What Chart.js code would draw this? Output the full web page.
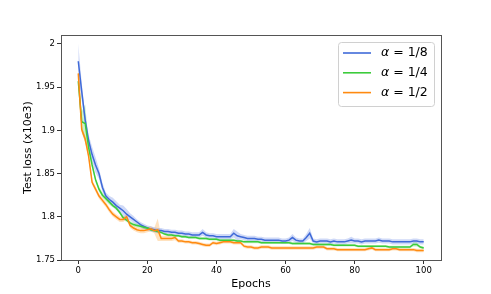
<!DOCTYPE html>
<html>
<head>
<meta charset="utf-8">
<script src="https://cdn.jsdelivr.net/npm/chart.js@4"></script>
<style>
  html, body { margin: 0; padding: 0; background: #fff; }
  #wrap { width: 491px; height: 294px; }
</style>
</head>
<body>
<div id="wrap"><canvas id="myChart" width="491" height="294"></canvas></div>
<script>
// epochs 0..100
let epochs = Array.from({length: 101}, (_, i) => i)
let labels = ["α = 1/8", "α = 1/4", "α = 1/2"]
let colors = ["#3f6ad8", "#3ccc3c", "#ff8a10"]
let bands = ["rgba(65,105,225,0.25)", "rgba(50,205,50,0.25)", "rgba(255,140,0,0.25)"]
let yTicks = [1.75, 1.8, 1.85, 1.9, 1.95, 2]
let xTicks = [0, 20, 40, 60, 80, 100]

let blue = [1.980,1.945,1.912,1.888,1.872,1.860,1.850,1.834,1.824,1.820,
  1.817,1.813,1.810,1.807,1.803,1.800,1.797,1.794,1.791,1.789,
  1.787,1.786,1.785,1.784,1.784,1.783,1.783,1.782,1.782,1.781,
  1.781,1.780,1.780,1.779,1.779,1.779,1.782,1.779,1.778,1.778,
  1.777,1.777,1.777,1.777,1.777,1.781,1.778,1.777,1.776,1.775,
  1.775,1.775,1.774,1.774,1.773,1.773,1.773,1.773,1.773,1.772,
  1.772,1.773,1.776,1.773,1.772,1.772,1.776,1.781,1.772,1.771,
  1.772,1.772,1.772,1.771,1.772,1.771,1.771,1.771,1.772,1.773,
  1.772,1.772,1.771,1.772,1.772,1.772,1.772,1.773,1.772,1.772,
  1.772,1.771,1.771,1.771,1.771,1.771,1.771,1.772,1.772,1.771,
  1.771]
let green = [1.957,1.910,1.908,1.880,1.860,1.843,1.832,1.825,1.821,1.817,
  1.813,1.810,1.805,1.799,1.796,1.793,1.791,1.790,1.789,1.788,
  1.787,1.785,1.784,1.783,1.782,1.780,1.779,1.779,1.778,1.778,
  1.777,1.777,1.776,1.776,1.776,1.775,1.775,1.775,1.774,1.774,
  1.774,1.773,1.773,1.773,1.773,1.773,1.772,1.772,1.771,1.771,
  1.771,1.771,1.771,1.770,1.770,1.770,1.770,1.770,1.770,1.770,
  1.770,1.770,1.769,1.769,1.769,1.769,1.769,1.769,1.768,1.768,
  1.768,1.768,1.768,1.768,1.767,1.767,1.767,1.767,1.767,1.767,
  1.767,1.766,1.766,1.766,1.766,1.766,1.766,1.766,1.766,1.766,
  1.765,1.765,1.765,1.765,1.765,1.765,1.765,1.768,1.768,1.765,
  1.764]
let orange = [1.966,1.901,1.890,1.870,1.840,1.832,1.824,1.819,1.814,1.808,
  1.803,1.800,1.797,1.797,1.800,1.790,1.787,1.785,1.784,1.784,
  1.785,1.786,1.784,1.785,1.775,1.775,1.775,1.775,1.776,1.772,
  1.772,1.771,1.771,1.770,1.770,1.769,1.768,1.767,1.767,1.770,
  1.769,1.770,1.771,1.771,1.771,1.770,1.770,1.770,1.766,1.765,
  1.765,1.764,1.764,1.765,1.765,1.765,1.764,1.764,1.764,1.764,
  1.764,1.764,1.764,1.764,1.764,1.764,1.764,1.764,1.764,1.765,
  1.765,1.765,1.763,1.763,1.763,1.762,1.762,1.762,1.762,1.762,
  1.762,1.762,1.762,1.762,1.763,1.764,1.762,1.762,1.762,1.762,
  1.762,1.763,1.763,1.762,1.762,1.762,1.762,1.762,1.761,1.761,
  1.761]

// half-width of the shaded band around each curve
let blueSd = [0.020,0.010,0.007,0.007,0.009,0.009,0.006,0.005,0.004,0.004,
  0.005,0.005,0.004,0.006,0.006,0.004,0.004,0.003,0.003,0.003,
  0.003,0.003,0.003,0.003,0.003,0.003,0.003,0.003,0.003,0.003,
  0.003,0.003,0.003,0.003,0.003,0.003,0.004,0.003,0.003,0.003,
  0.003,0.003,0.003,0.003,0.003,0.005,0.005,0.003,0.003,0.003,
  0.003,0.003,0.003,0.003,0.003,0.003,0.003,0.003,0.003,0.003,
  0.003,0.003,0.004,0.003,0.003,0.003,0.004,0.006,0.003,0.003,
  0.003,0.003,0.003,0.003,0.003,0.003,0.003,0.003,0.003,0.004,
  0.003,0.003,0.003,0.003,0.003,0.003,0.003,0.003,0.003,0.003,
  0.003,0.003,0.003,0.003,0.003,0.003,0.003,0.003,0.003,0.003,
  0.003]
let greenSd = [0.008,0.012,0.022,0.006,0.004,0.003,0.003,0.003,0.003,0.003,
  0.002,0.002,0.002,0.002,0.002,0.002,0.002,0.002,0.002,0.002,
  0.0015,0.0015,0.0015,0.0015,0.0015,0.0015,0.0015,0.0015,0.0015,0.0015,
  0.0015,0.0015,0.0015,0.0015,0.0015,0.0015,0.0015,0.0015,0.0015,0.0015,
  0.0015,0.0015,0.0015,0.0015,0.0015,0.0015,0.0015,0.0015,0.0015,0.0015,
  0.0015,0.0015,0.0015,0.0015,0.0015,0.0015,0.0015,0.0015,0.0015,0.0015,
  0.0015,0.0015,0.0015,0.0015,0.0015,0.0015,0.0015,0.0015,0.0015,0.0015,
  0.0015,0.0015,0.0015,0.0015,0.0015,0.0015,0.0015,0.0015,0.0015,0.0015,
  0.0015,0.0015,0.0015,0.0015,0.0015,0.0015,0.0015,0.0015,0.0015,0.0015,
  0.0015,0.0015,0.0015,0.0015,0.0015,0.0015,0.0015,0.0025,0.0025,0.0015,
  0.0015]
let orangeSd = [0.006,0.004,0.004,0.003,0.003,0.003,0.003,0.003,0.003,0.003,
  0.003,0.003,0.003,0.003,0.003,0.003,0.003,0.003,0.003,0.003,
  0.003,0.003,0.003,0.013,0.003,0.003,0.003,0.003,0.003,0.002,
  0.002,0.002,0.002,0.002,0.002,0.002,0.002,0.002,0.002,0.002,
  0.002,0.002,0.002,0.002,0.002,0.002,0.002,0.002,0.002,0.002,
  0.002,0.002,0.002,0.002,0.002,0.002,0.002,0.002,0.002,0.002,
  0.002,0.002,0.002,0.002,0.002,0.002,0.002,0.002,0.002,0.002,
  0.002,0.002,0.002,0.002,0.002,0.002,0.002,0.002,0.002,0.002,
  0.002,0.002,0.002,0.002,0.002,0.002,0.002,0.002,0.002,0.002,
  0.002,0.002,0.002,0.002,0.002,0.002,0.002,0.002,0.002,0.002,
  0.002]

let means = [blue, green, orange]
let sds = [blueSd, greenSd, orangeSd]
const FONT = "'DejaVu Sans', sans-serif"

function pts(arr, sd, sign) {
  return epochs.map((e, i) => ({x: e, y: arr[i] + sign * (sd ? sd[i] : 0)}))
}

let datasets = []
means.forEach((m, k) => {
  datasets.push({label: '_hi' + k, data: pts(m, sds[k], 1), borderWidth: 0, pointRadius: 0, fill: false, order: 10})
  datasets.push({label: '_lo' + k, data: pts(m, sds[k], -1), borderWidth: 0, pointRadius: 0,
    fill: '-1', backgroundColor: bands[k], order: 10})
})
means.forEach((m, k) => {
  datasets.push({label: labels[k], data: pts(m, null, 0), borderColor: colors[k], borderWidth: 1.5,
    pointRadius: 0, fill: false, tension: 0, order: 3 - k, isMain: true})
})

const decor = {
  id: 'decor',
  afterDraw(chart) {
    const ctx = chart.ctx, a = chart.chartArea
    ctx.save()
    // frame
    ctx.strokeStyle = '#555'
    ctx.lineWidth = 1
    ctx.strokeRect(Math.round(a.left) + 0.5, Math.round(a.top) + 0.5, Math.round(a.right - a.left), Math.round(a.bottom - a.top))
    // axis titles
    ctx.fillStyle = '#000'
    ctx.font = '11px ' + FONT
    ctx.textAlign = 'center'
    ctx.textBaseline = 'middle'
    ctx.fillText('Epochs', (a.left + a.right) / 2, 284)
    ctx.translate(28, (a.top + a.bottom) / 2)
    ctx.rotate(-Math.PI / 2)
    ctx.fillText('Test loss (x10e3)', 0, 0)
    ctx.restore()

    // legend box
    ctx.save()
    const bx = 338, by = 42, bw = 96, bh = 64
    ctx.fillStyle = 'rgba(255,255,255,0.8)'
    ctx.strokeStyle = '#d0d0d0'
    ctx.lineWidth = 1
    ctx.beginPath()
    ctx.roundRect(bx + 0.5, by + 0.5, bw, bh, 3)
    ctx.fill()
    ctx.stroke()
    ctx.textBaseline = 'middle'
    ctx.textAlign = 'left'
    const mains = chart.data.datasets.filter(d => d.isMain)
    mains.forEach((d, i) => {
      const y = 53 + i * 19.8
      ctx.strokeStyle = d.borderColor
      ctx.lineWidth = 1.6
      ctx.beginPath()
      ctx.moveTo(343, y)
      ctx.lineTo(371, y)
      ctx.stroke()
      ctx.fillStyle = '#000'
      // greek letter in italic, like mathtext
      const sym = d.label.charAt(0), rest = d.label.slice(1)
      ctx.font = 'italic 12.5px ' + FONT
      ctx.fillText(sym, 381, y)
      const w = ctx.measureText(sym).width
      ctx.font = '12.5px ' + FONT
      ctx.fillText(rest, 381 + w, y)
    })
    ctx.restore()
  }
}

new Chart(document.getElementById('myChart').getContext('2d'), {
  type: 'line',
  data: {datasets: datasets},
  plugins: [decor],
  options: {
    responsive: false,
    animation: false,
    layout: {padding: {top: 35, right: 50, left: 0, bottom: 0}},
    plugins: {legend: {display: false}, tooltip: {enabled: false}},
    scales: {
      x: {
        type: 'linear', min: -5, max: 105,
        afterFit(s) { s.height = 34 },
        afterBuildTicks(s) { s.ticks = xTicks.map(v => ({value: v})) },
        ticks: {font: {family: FONT, size: 8.5}, color: '#000', padding: 2, maxRotation: 0,
          callback: v => String(v)},
        grid: {drawOnChartArea: false, drawTicks: true, tickLength: 4, color: '#333'},
        border: {display: false}
      },
      y: {
        type: 'linear', min: 1.75, max: 2.0104,
        afterFit(s) { s.width = 61 },
        afterBuildTicks(s) { s.ticks = yTicks.map(v => ({value: v})) },
        ticks: {font: {family: FONT, size: 8.5}, color: '#000', padding: 2,
          callback: v => String(Math.round(v * 100) / 100)},
        grid: {drawOnChartArea: false, drawTicks: true, tickLength: 4, color: '#333'},
        border: {display: false}
      }
    }
  }
});
</script>
</body>
</html>
